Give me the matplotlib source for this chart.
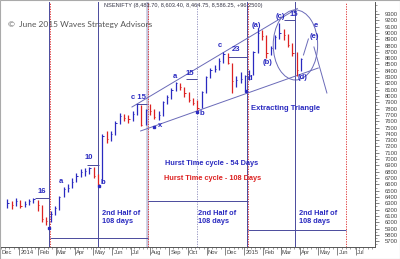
import pandas as pd
import numpy as np
import matplotlib.pyplot as plt
import matplotlib.dates as mdates
from matplotlib.patches import Ellipse, Rectangle
from matplotlib.transforms import blended_transform_factory

D = pd.Timestamp

# weekly NIFTY bars
weeks = pd.date_range('2013-12-13', periods=69, freq='7D')
lows = [6230, 6210, 6260, 6220, 6240, 6270, 6300, 6180, 6000, 5950,
        6000, 6120, 6200, 6400, 6480, 6540, 6640, 6710, 6740, 6760,
        6700, 6590, 6620, 7250, 7280, 7380, 7550, 7600, 7580, 7600,
        7700, 7530, 7540, 7700, 7640, 7620, 7690, 7880, 7960, 8080,
        8100, 7990, 7900, 7850, 7780, 7810, 8050, 8290, 8380, 8420,
        8530, 8500, 8050, 8150, 8200, 8090, 8250, 8330, 8680, 8880,
        8600, 8650, 8740, 8900, 8880, 8780, 8640, 8320, 8400]
highs = [6360, 6340, 6380, 6350, 6330, 6360, 6390, 6350, 6280, 6090,
         6170, 6260, 6420, 6560, 6600, 6700, 6780, 6850, 6860, 6880,
         6870, 6760, 7400, 7440, 7450, 7600, 7730, 7720, 7700, 7760,
         7880, 7860, 7800, 7870, 7790, 7760, 7920, 8020, 8120, 8220,
         8210, 8150, 8060, 7970, 7930, 8080, 8320, 8440, 8490, 8600,
         8690, 8680, 8530, 8320, 8380, 8340, 8420, 8720, 9080, 9050,
         8960, 8800, 8960, 9160, 9060, 8980, 8840, 8690, 8603]
closes = [6304, 6273, 6336, 6257, 6289, 6336, 6360, 6273, 6051, 6019,
          6130, 6225, 6400, 6534, 6542, 6645, 6740, 6796, 6812, 6859,
          6732, 6606, 7366, 7319, 7398, 7572, 7691, 7652, 7636, 7715,
          7874, 7541, 7778, 7763, 7667, 7699, 7905, 7984, 8095, 8214,
          8135, 8040, 7937, 7889, 7810, 8056, 8301, 8412, 8436, 8555,
          8666, 8523, 8238, 8254, 8270, 8317, 8333, 8698, 8999, 8951,
          8682, 8761, 8928, 8999, 8967, 8809, 8682, 8412, 8586]

month_starts = pd.date_range('2013-12-01', '2015-07-01', freq='MS')
month_names = ['Dec', '2014', 'Feb', 'Mar', 'Apr', 'May', 'Jun', 'Jul', 'Aug',
               'Sep', 'Oct', 'Nov', 'Dec', '2015', 'Feb', 'Mar', 'Apr', 'May',
               'Jun', 'Jul']

blue = '#2a2ac0'
red = '#dd2222'
navy = '#4a4a9c'
line_c = '#6a6ab8'

plt.rcParams['font.family'] = ['Liberation Sans', 'DejaVu Sans']
fig = plt.figure(figsize=(4, 2.59), dpi=100)
ax = fig.add_axes([0, 12 / 259, 375 / 400, 245 / 259])

# price bars
prev = [closes[0]] + closes[:-1]
cols = [blue if c >= p else red for c, p in zip(closes, prev)]
ax.vlines(weeks, lows, highs, colors=cols, lw=0.9, zorder=3)
ax.hlines(closes, weeks, weeks + pd.Timedelta(days=2), colors=cols, lw=0.7, zorder=3)

# cycle lines
for d in ['2014-02-18', '2014-05-09', '2015-01-05', '2015-03-24']:
    ax.axvline(D(d), color=navy, lw=0.7, zorder=2)
ax.axvline(D('2014-07-28'), color='#c4c4dc', lw=1.8, zorder=1)
for d in ['2014-02-20', '2014-07-29', '2015-01-07', '2015-06-15']:
    ax.axvline(D(d), color=red, lw=0.6, ls=(0, (1.5, 1.5)), zorder=2)
ax.axvline(D('2014-10-17'), color='#8888bb', lw=0.6, ls=(0, (1.5, 1.5)), zorder=2)

ax.hlines(5750, D('2014-02-20'), D('2014-07-29'), color=navy, lw=0.7)
ax.hlines(6336, D('2014-07-29'), D('2015-01-07'), color=navy, lw=0.7)
ax.hlines(5876, D('2015-01-07'), D('2015-06-15'), color=navy, lw=0.7)

# channel / triangle lines
ax.plot([D('2014-07-03'), D('2015-03-28')], [7826, 9387], color=line_c, lw=0.7)
ax.plot([D('2014-07-17'), D('2015-05-01')], [7446, 8444], color=line_c, lw=0.7)
ax.plot([D('2015-04-07'), D('2015-04-15')], [8650, 8904], color=line_c, lw=0.7)
ax.plot([D('2015-04-24'), D('2015-05-15')], [8777, 8048], color=line_c, lw=0.7)
ax.add_patch(Ellipse((mdates.date2num(D('2015-03-25')), 8809), 72, 1110,
                     fill=False, ec=line_c, lw=0.7))

# level lines next to counts
for d0, d1, lv in [('2014-01-26', '2014-02-18', 6384), ('2014-04-21', '2014-05-10', 6907),
                   ('2014-07-10', '2014-07-27', 7874), ('2014-09-29', '2014-10-16', 8270),
                   ('2014-12-05', '2015-01-06', 8618), ('2015-03-06', '2015-03-25', 9205)]:
    ax.hlines(lv, D(d0), D(d1), color=navy, lw=0.7)

# low markers
for d, p in [('2014-02-19', 5908), ('2014-05-10', 6574), ('2014-08-07', 7509),
             ('2014-10-16', 7747), ('2015-01-04', 8080)]:
    ax.plot(D(d), p, marker='s', ms=1.8, color=blue, zorder=4)

lab = dict(color=blue, fontsize=5.5, fontweight='bold', ha='center', va='center')
for t, d, p in [('16', '2014-02-06', 6479), ('a', '2014-03-09', 6653), ('10', '2014-04-24', 7033),
                ('b', '2014-05-16', 6637), ('x', '2014-08-18', 7525), ('a', '2014-09-11', 8317),
                ('15', '2014-10-04', 8349), ('b', '2014-10-24', 7715), ('c', '2014-11-22', 8793),
                ('23', '2014-12-18', 8745), ('d', '2015-01-11', 8270), ('(a)', '2015-01-20', 9110),
                ('(b)', '2015-02-08', 8539), ('(c)', '2015-03-01', 9268), ('15', '2015-03-22', 9284),
                ('(d)', '2015-04-05', 8286), ('(e)', '2015-04-24', 8951), ('e', '2015-04-27', 9110)]:
    ax.text(D(d), p, t, **lab)
ax.text(D('2014-07-02'), 7969, 'c 15', color=blue, fontsize=5.5, fontweight='bold', va='center')

ax.text(D('2015-01-12'), 7810, 'Extracting Triangle', color=blue, fontsize=5.5,
        fontweight='bold', va='center')
ax.text(D('2014-08-26'), 6938, 'Hurst Time cycle - 54 Days', color=blue, fontsize=5.3,
        fontweight='bold', va='center')
ax.text(D('2014-08-24'), 6700, 'Hurst Time cycle - 108 Days', color=red, fontsize=5.3,
        fontweight='bold', va='center')
for d in ['2014-05-16', '2014-10-18', '2015-03-30']:
    ax.text(D(d), 6075, '2nd Half of\n108 days', color=blue, fontsize=5.3,
            fontweight='bold', va='center', linespacing=1.3)

# axes styling
ax.set_xlim(D('2013-12-11'), D('2015-08-01'))
ax.set_ylim(5607, 9490)
for s in ['left', 'top']:
    ax.spines[s].set_visible(False)
ax.spines['right'].set_color('#555555')
ax.spines['bottom'].set_color('#555555')
ax.spines['right'].set_linewidth(0.7)
ax.spines['bottom'].set_linewidth(0.7)

ax.yaxis.tick_right()
ax.set_yticks(np.arange(5700, 9301, 100))
ax.set_yticks(np.arange(5650, 9451, 100), minor=True)
ax.tick_params(axis='y', which='major', length=3, width=0.5, labelsize=4.2,
               labelcolor='#444444', color='#555555', pad=4)
ax.tick_params(axis='y', which='minor', length=1.5, width=0.4, color='#555555')

ax.set_xticks(month_starts)
ax.set_xticklabels([])
ax.xaxis.set_minor_locator(mdates.WeekdayLocator(byweekday=mdates.MO))
ax.tick_params(axis='x', which='major', length=6, width=0.5, color='#555555')
ax.tick_params(axis='x', which='minor', length=1.5, width=0.4, color='#555555')
tr = blended_transform_factory(ax.transData, ax.transAxes)
for m, name in zip(month_starts, month_names):
    ax.text(m + pd.Timedelta(days=2), -0.022, name, transform=tr, fontsize=4.2,
            color='#444444', ha='left', va='center', clip_on=False)

fig.text(0.26, 1 - 5 / 259, 'NSENIFTY (8,483.70, 8,603.40, 8,464.75, 8,586.25, +96.2500)',
         fontsize=4.1, color='#333344', va='center')
fig.text(0.02, 1 - 24 / 259, '\u00a9  June 2015 Waves Strategy Advisors', fontsize=6.0,
         color='#555555', va='center', family=['Lato', 'DejaVu Sans'])

fig.add_artist(Rectangle((0, 0), 1, 1, transform=fig.transFigure, fill=False,
                         ec='#aaaaaa', lw=0.8))

fig.savefig('out.png', dpi=100)
